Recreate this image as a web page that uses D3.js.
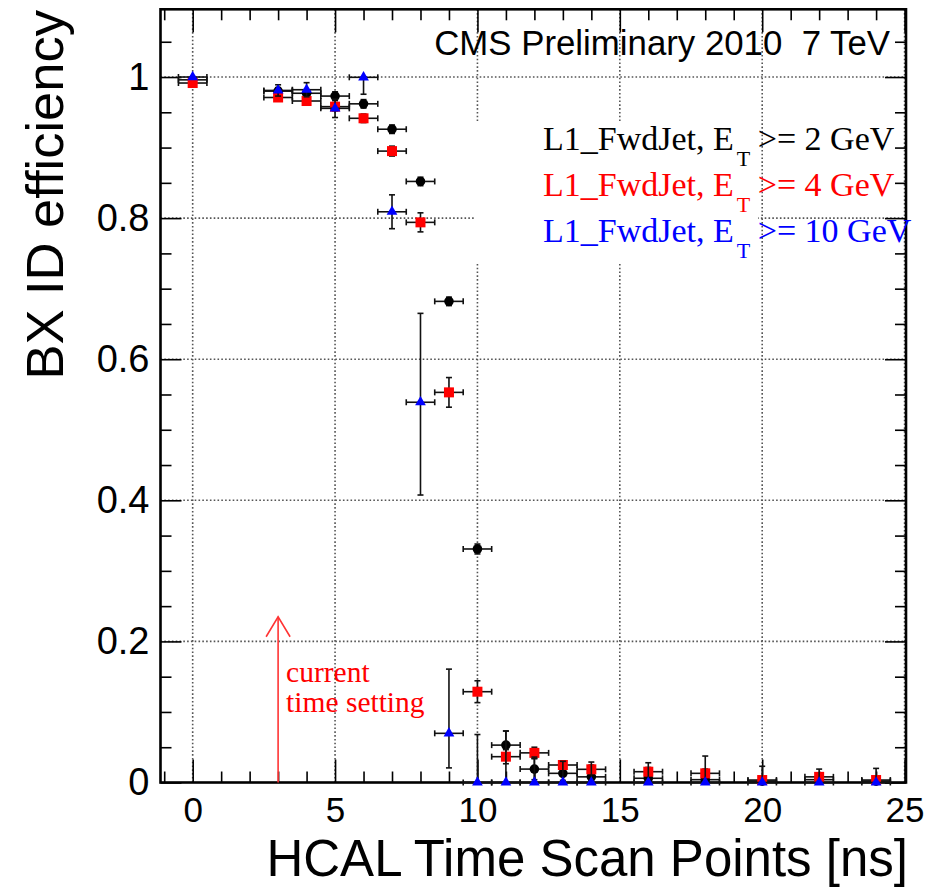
<!DOCTYPE html>
<html><head><meta charset="utf-8">
<script src="https://cdn.jsdelivr.net/npm/d3@7"></script>
<style>
html,body{margin:0;padding:0;background:#fff;}
svg{display:block;}
text{font-family:"Liberation Sans",Arial,Helvetica,sans-serif;}
.serif{font-family:"Liberation Serif","Times New Roman",serif;}
</style></head>
<body>
<script>
// ---------- data ----------
const scanPoints = [0,3,4,5,6,7,8,9,10,11,12,13,14,16,18,20,22,24];
const xHalfWidth = 0.5;

const effEt2   = [0.996,0.980,0.977,0.973,0.962,0.926,0.852,0.682,0.331,0.053,0.019,0.013,0.008,0.006,0.004,0.002,0.004,0.002];
const errEt2   = [0.003,0.005,0.005,0.006,0.006,0.006,0.006,0.006,0.007,0.020,0.015,0.010,0.008,0.006,0.006,0.002,0.004,0.002];

const effEt4   = [0.9915,0.971,0.966,0.958,0.9415,0.895,0.794,0.553,0.1287,0.0366,0.042,0.0248,0.0187,0.0153,0.013,0.0035,0.008,0.0035];
const errEt4   = [0.003,0.005,0.005,0.006,0.006,0.007,0.0135,0.021,0.0155,0.010,0.008,0.006,0.006,0.006,0.006,0.0035,0.004,0.0035];

const effEt10    = [1.0,0.981,0.982,0.9556,0.9996,0.809,0.539,0.0697,0,0,0,0,0,0,0,0,0,0];
const errLowEt10 = [0.002,0.008,0.010,0.013,0.024,0.024,0.1315,0.049,0,0,0,0,0,0,0,0,0,0];
const errHighEt10= [0,0.008,0.010,0.013,0.0004,0.024,0.126,0.091,0.068,0.073,0.036,0.030,0.029,0.028,0.0375,0.023,0.019,0.020];

const seriesNames  = ["L1_FwdJet, E", "L1_FwdJet, E", "L1_FwdJet, E"];
const seriesCuts   = [">= 2 GeV", ">= 4 GeV", ">= 10 GeV"];
const seriesColors = ["#000000", "#ff0000", "#0000ff"];

const xTicks = [0,5,10,15,20,25];
const xTickLabels = ["0","5","10","15","20","25"];
const yTicks = [0,0.2,0.4,0.6,0.8,1.0];
const yTickLabels = ["0","0.2","0.4","0.6","0.8","1"];

const xTitle = "HCAL Time Scan Points [ns]";
const yTitle = "BX ID efficiency";
const headerText = "CMS Preliminary 2010  7 TeV";
const currentSetting = 3;
const currentSettingTop = 0.235;
const noteLines = ["current", "time setting"];

// ---------- layout ----------
const W = 931, H = 889;
const svg = d3.select("body").append("svg").attr("width", W).attr("height", H);
svg.append("rect").attr("width", W).attr("height", H).attr("fill", "#fff");

const x = d3.scaleLinear().domain([-1.13, 25.05]).range([160.5, 906]);
const y = d3.scaleLinear().domain([0, 1.096]).range([782.5, 9.3]);
const [X0, X1] = x.range();
const [Y0, Y1] = y.range();

// grid
const grid = svg.append("g").attr("stroke", "#555").attr("stroke-width", 1.6).attr("stroke-dasharray", "1.6,2.2");
grid.selectAll(".gx").data(xTicks).enter().append("line")
  .attr("x1", d => x(d)).attr("x2", d => x(d)).attr("y1", Y1).attr("y2", Y0);
grid.selectAll(".gy").data(yTicks.filter(d => d > 0)).enter().append("line")
  .attr("x1", X0).attr("x2", X1).attr("y1", d => y(d)).attr("y2", d => y(d));

// legend box (white, hides grid)
svg.append("rect").attr("x", 475).attr("y", 121).attr("width", 283).attr("height", 142).attr("fill", "#fff");

// axes
function axisG(axis, tx, ty) {
  const g = svg.append("g").attr("transform", `translate(${tx},${ty})`).call(axis);
  g.select(".domain").remove();
  g.selectAll(".tick line").attr("stroke", "#000").attr("stroke-width", 1.6);
  return g;
}
const xMinor = d3.range(0, 26, 1).filter(v => v % 5 !== 0);
const yMinor = d3.range(0.05, 1.09, 0.05).filter(v => Math.abs(v / 0.2 - Math.round(v / 0.2)) > 1e-6);

const gxb = axisG(d3.axisBottom(x).tickValues(xTicks).tickSize(-23).tickPadding(14.6)
  .tickFormat((d, i) => xTickLabels[i]), 0, Y0);
gxb.selectAll("text").attr("font-size", 35).attr("fill", "#000");
axisG(d3.axisBottom(x).tickValues(xMinor.concat([-1])).tickSize(-11).tickFormat(""), 0, Y0);
axisG(d3.axisTop(x).tickValues(xTicks).tickSize(-23).tickFormat(""), 0, Y1);
axisG(d3.axisTop(x).tickValues(xMinor.concat([-1])).tickSize(-11).tickFormat(""), 0, Y1);

const gyl = axisG(d3.axisLeft(y).tickValues(yTicks).tickSize(-21).tickPadding(11)
  .tickFormat((d, i) => yTickLabels[i]), X0, 0);
gyl.selectAll("text").attr("font-size", 38).attr("fill", "#000");
axisG(d3.axisLeft(y).tickValues(yMinor).tickSize(-11).tickFormat(""), X0, 0);
axisG(d3.axisRight(y).tickValues(yTicks).tickSize(-21).tickFormat(""), X1, 0);
axisG(d3.axisRight(y).tickValues(yMinor).tickSize(-11).tickFormat(""), X1, 0);

// frame
svg.append("rect").attr("x", X0).attr("y", Y1).attr("width", X1 - X0).attr("height", Y0 - Y1)
  .attr("fill", "none").attr("stroke", "#000").attr("stroke-width", 2.6);

// axis titles
svg.append("text").attr("x", X1 + 2).attr("y", 876).attr("text-anchor", "end")
  .attr("font-size", 51).attr("fill", "#000").text(xTitle);
svg.append("text").attr("transform", `translate(63,10) rotate(-90)`).attr("text-anchor", "end")
  .attr("font-size", 52.5).attr("fill", "#000").text(yTitle);

// header
svg.append("text").attr("x", 890).attr("y", 55).attr("text-anchor", "end")
  .attr("font-size", 34.8).attr("fill", "#000").style("white-space", "pre").text(headerText);

// current time setting arrow
const arrow = svg.append("g").attr("stroke", "#ff3333").attr("stroke-width", 1.6).attr("fill", "none");
const ax = x(currentSetting), ayTop = y(currentSettingTop);
arrow.append("line").attr("x1", ax).attr("x2", ax).attr("y1", y(0)).attr("y2", ayTop);
arrow.append("path").attr("d", `M${ax - 12},${ayTop + 20}L${ax},${ayTop}L${ax + 12},${ayTop + 20}`);
const note = svg.append("text").attr("class", "serif").attr("fill", "#ff0000").attr("font-size", 29.5);
noteLines.forEach((t, i) => note.append("tspan").attr("x", ax + 8).attr("y", 682 + i * 30).text(t));

// error bars + markers
const series = [
  { v: effEt2, lo: errEt2, hi: errEt2, color: seriesColors[0], sym: "circle" },
  { v: effEt4, lo: errEt4, hi: errEt4, color: seriesColors[1], sym: "square" },
  { v: effEt10, lo: errLowEt10, hi: errHighEt10, color: seriesColors[2], sym: "triangle" }
];
const cap = 3;
series.forEach(s => {
  const pts = scanPoints.map((p, i) => ({ p, v: s.v[i], lo: s.lo[i], hi: s.hi[i] }));
  const eg = svg.append("g").attr("stroke", "#111").attr("stroke-width", 1.6).attr("fill", "none");
  pts.forEach(d => {
    const cx = x(d.p), cy = y(d.v);
    const xl = x(d.p - xHalfWidth), xr = x(d.p + xHalfWidth);
    eg.append("line").attr("x1", xl).attr("x2", xr).attr("y1", cy).attr("y2", cy);
    eg.append("line").attr("x1", xl).attr("x2", xl).attr("y1", cy - cap).attr("y2", cy + cap);
    eg.append("line").attr("x1", xr).attr("x2", xr).attr("y1", cy - cap).attr("y2", cy + cap);
    if (d.lo > 0 || d.hi > 0) {
      const yt = y(d.v + d.hi), yb = y(d.v - d.lo);
      eg.append("line").attr("x1", cx).attr("x2", cx).attr("y1", yt).attr("y2", yb);
      if (d.hi > 0) eg.append("line").attr("x1", cx - cap).attr("x2", cx + cap).attr("y1", yt).attr("y2", yt);
      if (d.lo > 0) eg.append("line").attr("x1", cx - cap).attr("x2", cx + cap).attr("y1", yb).attr("y2", yb);
    }
  });
  const mg = svg.append("g").attr("fill", s.color);
  pts.forEach(d => {
    const cx = x(d.p), cy = y(d.v);
    if (s.sym === "circle") mg.append("circle").attr("cx", cx).attr("cy", cy).attr("r", 4.8);
    else if (s.sym === "square") mg.append("rect").attr("x", cx - 5).attr("y", cy - 5).attr("width", 10).attr("height", 10);
    else mg.append("path").attr("transform", `translate(${cx},${cy})`).attr("d", d3.symbol(d3.symbolTriangle, 50)());
  });
});

// legend
seriesNames.forEach((n, i) => {
  const t = svg.append("text").attr("class", "serif").attr("x", 543).attr("y", 150 + i * 46)
    .attr("font-size", 34).attr("fill", seriesColors[i]);
  t.append("tspan").text(n);
  t.append("tspan").attr("dx", 3).attr("dy", 16).attr("font-size", 22).text("T");
  t.append("tspan").attr("dx", 7.5).attr("dy", -16).text(seriesCuts[i]);
});
</script>
</body></html>
